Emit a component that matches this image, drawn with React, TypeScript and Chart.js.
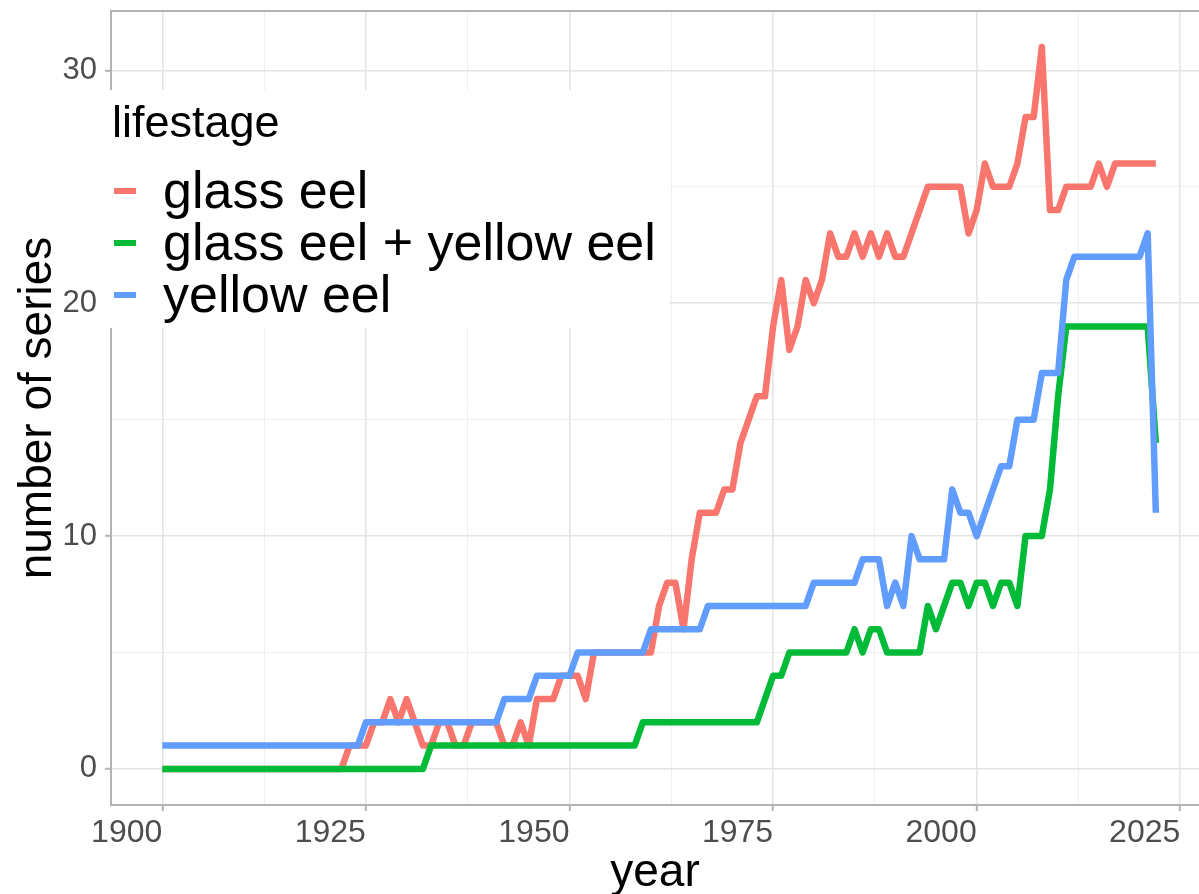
import React, { useEffect, useRef } from 'react';
import { Chart, registerables } from 'chart.js';

Chart.register(...registerables);

// ---------- data ----------
const years = [
  1900, 1901, 1902, 1903, 1904, 1905, 1906, 1907, 1908, 1909,
  1910, 1911, 1912, 1913, 1914, 1915, 1916, 1917, 1918, 1919,
  1920, 1921, 1922, 1923, 1924, 1925, 1926, 1927, 1928, 1929,
  1930, 1931, 1932, 1933, 1934, 1935, 1936, 1937, 1938, 1939,
  1940, 1941, 1942, 1943, 1944, 1945, 1946, 1947, 1948, 1949,
  1950, 1951, 1952, 1953, 1954, 1955, 1956, 1957, 1958, 1959,
  1960, 1961, 1962, 1963, 1964, 1965, 1966, 1967, 1968, 1969,
  1970, 1971, 1972, 1973, 1974, 1975, 1976, 1977, 1978, 1979,
  1980, 1981, 1982, 1983, 1984, 1985, 1986, 1987, 1988, 1989,
  1990, 1991, 1992, 1993, 1994, 1995, 1996, 1997, 1998, 1999,
  2000, 2001, 2002, 2003, 2004, 2005, 2006, 2007, 2008, 2009,
  2010, 2011, 2012, 2013, 2014, 2015, 2016, 2017, 2018, 2019,
  2020, 2021, 2022,
];

const glassEel = [
  0, 0, 0, 0, 0, 0, 0, 0, 0, 0,
  0, 0, 0, 0, 0, 0, 0, 0, 0, 0,
  0, 0, 0, 1, 1, 1, 2, 2, 3, 2,
  3, 2, 1, 1, 2, 2, 1, 1, 2, 2,
  2, 2, 1, 1, 2, 1, 3, 3, 3, 4,
  4, 4, 3, 5, 5, 5, 5, 5, 5, 5,
  5, 7, 8, 8, 6, 9, 11, 11, 11, 12,
  12, 14, 15, 16, 16, 19, 21, 18, 19, 21,
  20, 21, 23, 22, 22, 23, 22, 23, 22, 23,
  22, 22, 23, 24, 25, 25, 25, 25, 25, 23,
  24, 26, 25, 25, 25, 26, 28, 28, 31, 24,
  24, 25, 25, 25, 25, 26, 25, 26, 26, 26,
  26, 26, 26,
];

const glassPlusYellowEel = [
  0, 0, 0, 0, 0, 0, 0, 0, 0, 0,
  0, 0, 0, 0, 0, 0, 0, 0, 0, 0,
  0, 0, 0, 0, 0, 0, 0, 0, 0, 0,
  0, 0, 0, 1, 1, 1, 1, 1, 1, 1,
  1, 1, 1, 1, 1, 1, 1, 1, 1, 1,
  1, 1, 1, 1, 1, 1, 1, 1, 1, 2,
  2, 2, 2, 2, 2, 2, 2, 2, 2, 2,
  2, 2, 2, 2, 3, 4, 4, 5, 5, 5,
  5, 5, 5, 5, 5, 6, 5, 6, 6, 5,
  5, 5, 5, 5, 7, 6, 7, 8, 8, 7,
  8, 8, 7, 8, 8, 7, 10, 10, 10, 12,
  16, 19, 19, 19, 19, 19, 19, 19, 19, 19,
  19, 19, 14,
];

const yellowEel = [
  1, 1, 1, 1, 1, 1, 1, 1, 1, 1,
  1, 1, 1, 1, 1, 1, 1, 1, 1, 1,
  1, 1, 1, 1, 1, 2, 2, 2, 2, 2,
  2, 2, 2, 2, 2, 2, 2, 2, 2, 2,
  2, 2, 3, 3, 3, 3, 4, 4, 4, 4,
  4, 5, 5, 5, 5, 5, 5, 5, 5, 5,
  6, 6, 6, 6, 6, 6, 6, 7, 7, 7,
  7, 7, 7, 7, 7, 7, 7, 7, 7, 7,
  8, 8, 8, 8, 8, 8, 9, 9, 9, 7,
  8, 7, 10, 9, 9, 9, 9, 12, 11, 11,
  10, 11, 12, 13, 13, 15, 15, 15, 17, 17,
  17, 21, 22, 22, 22, 22, 22, 22, 22, 22,
  22, 23, 11,
];

const seriesNames = ['glass eel', 'glass eel + yellow eel', 'yellow eel'];
const seriesColors = ['#F8766D', '#00BA38', '#619CFF'];
const xTickLabels = ['1900', '1925', '1950', '1975', '2000', '2025'];
const yTickLabels = ['0', '10', '20', '30'];
const legendTitle = 'lifestage';
const xTitle = 'year';
const yTitle = 'number of series';

// ---------- styling ----------
const FONT = "'Liberation Sans', Arial, Helvetica, sans-serif";
const GRID_MAJOR = '#e4e4e4';
const GRID_MINOR = '#efefef';
const BORDER = '#b3b3b3';
const TICK_TEXT = '#4d4d4d';

const overlayPlugin = {
  id: 'panelOverlay',
  afterDraw(chart: any) {
    const { ctx, chartArea } = chart;
    ctx.save();
    // panel border (top edge)
    ctx.strokeStyle = BORDER;
    ctx.lineWidth = 2;
    ctx.beginPath();
    ctx.moveTo(chartArea.left - 1, chartArea.top);
    ctx.lineTo(chartArea.right, chartArea.top);
    ctx.stroke();

    // legend box inside the panel
    const bx = chartArea.left - 10;
    const by = 90;
    ctx.fillStyle = '#ffffff';
    ctx.fillRect(bx, by, 568, 238);

    ctx.fillStyle = '#000000';
    ctx.textAlign = 'left';
    ctx.textBaseline = 'alphabetic';
    ctx.font = `45px ${FONT}`;
    ctx.fillText(legendTitle, chartArea.left + 1, 137);

    ctx.font = `52px ${FONT}`;
    seriesNames.forEach((name, i) => {
      const base = 208 + i * 52;
      ctx.strokeStyle = seriesColors[i];
      ctx.lineWidth = 6;
      ctx.lineCap = 'butt';
      ctx.beginPath();
      ctx.moveTo(chartArea.left + 3, base - 17);
      ctx.lineTo(chartArea.left + 25, base - 17);
      ctx.stroke();
      ctx.fillStyle = '#000000';
      ctx.fillText(name, chartArea.left + 52, base);
    });
    ctx.restore();
  },
};

export default function App() {
  const ref = useRef<HTMLCanvasElement>(null);

  useEffect(() => {
    const canvas = ref.current;
    if (!canvas) return;
    const seriesValues = [glassEel, glassPlusYellowEel, yellowEel];
    const chart = new Chart(canvas, {
      type: 'line',
      data: {
        datasets: seriesNames.map((name, i) => ({
          label: name,
          data: years.map((yr, j) => ({ x: yr, y: seriesValues[i][j] })),
          borderColor: seriesColors[i],
          backgroundColor: seriesColors[i],
          borderWidth: 6.5,
          borderJoinStyle: 'round' as const,
          borderCapStyle: 'butt' as const,
          pointRadius: 0,
          pointHoverRadius: 0,
          tension: 0,
          fill: false,
          order: 3 - i,
        })),
      },
      options: {
        responsive: false,
        animation: false,
        devicePixelRatio: 1,
        layout: { padding: { top: 11, right: 0, bottom: 0, left: 0 } },
        plugins: {
          legend: { display: false },
          tooltip: { enabled: false },
          title: { display: false },
        },
        font: { family: FONT },
        scales: {
          x: {
            type: 'linear',
            min: 1893.7,
            max: 2027.3,
            afterFit: (scale: any) => {
              scale.height = 89;
              scale.paddingLeft = 0;
              scale.paddingRight = 0;
            },
            ticks: {
              stepSize: 12.5,
              includeBounds: false,
              autoSkip: false,
              maxRotation: 0,
              minRotation: 0,
              align: 'end',
              padding: 3,
              color: TICK_TEXT,
              font: { family: FONT, size: 32 },
              callback: (value: any) => {
                const s = String(value);
                return xTickLabels.includes(s) ? s : '';
              },
            },
            grid: {
              color: (c: any) => (c.tick && c.tick.value % 25 === 0 ? GRID_MAJOR : GRID_MINOR),
              lineWidth: (c: any) => (c.tick && c.tick.value % 25 === 0 ? 1.6 : 1),
              tickColor: (c: any) => (c.tick && c.tick.value % 25 === 0 ? BORDER : 'rgba(0,0,0,0)'),
              tickWidth: 2,
              tickLength: 6,
              drawTicks: true,
            },
            border: { display: true, color: BORDER, width: 2 },
            title: {
              display: true,
              text: xTitle,
              color: '#000000',
              font: { family: FONT, size: 46, lineHeight: 0.9 },
              padding: { top: 0, bottom: 0 },
            },
          },
          y: {
            type: 'linear',
            min: -1.55,
            max: 32.55,
            afterFit: (scale: any) => {
              scale.width = 111;
              scale.paddingTop = 0;
              scale.paddingBottom = 0;
            },
            ticks: {
              stepSize: 5,
              includeBounds: false,
              autoSkip: false,
              padding: 8,
              color: TICK_TEXT,
              font: { family: FONT, size: 31 },
              callback: (value: any) => {
                const s = String(value);
                return yTickLabels.includes(s) ? s : '';
              },
            },
            grid: {
              color: (c: any) => (c.tick && c.tick.value % 10 === 0 ? GRID_MAJOR : GRID_MINOR),
              lineWidth: (c: any) => (c.tick && c.tick.value % 10 === 0 ? 1.6 : 1),
              tickColor: (c: any) => (c.tick && c.tick.value % 10 === 0 ? BORDER : 'rgba(0,0,0,0)'),
              tickWidth: 2,
              tickLength: 6,
              drawTicks: true,
            },
            border: { display: true, color: BORDER, width: 2 },
            title: {
              display: true,
              text: yTitle,
              color: '#000000',
              font: { family: FONT, size: 46 },
              padding: { top: 11, bottom: 0 },
            },
          },
        },
      } as any,
      plugins: [overlayPlugin],
    });
    return () => chart.destroy();
  }, []);

  return (
    <div style={{ position: 'absolute', left: 0, top: 0, width: 1199, height: 894, background: '#ffffff' }}>
      <canvas ref={ref} width={1199} height={894} style={{ display: 'block' }} />
    </div>
  );
}
